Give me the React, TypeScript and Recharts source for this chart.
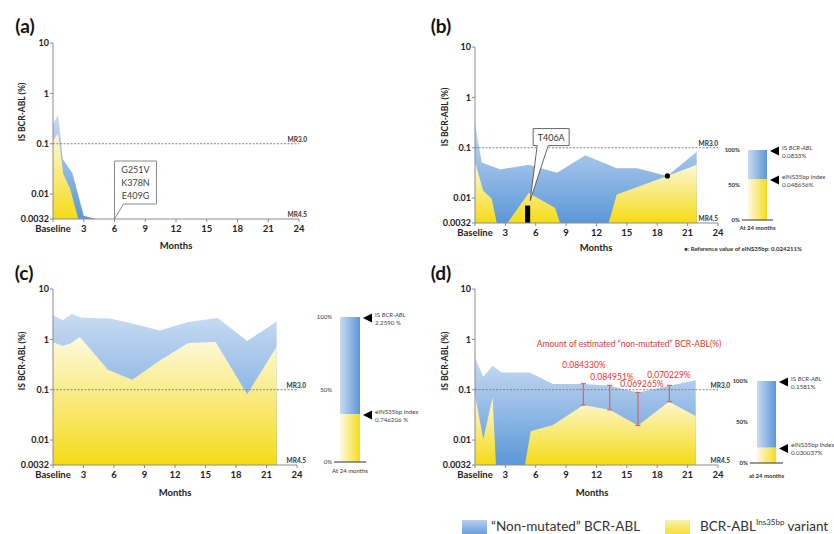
import React from 'react';
import {
  ComposedChart,
  Area,
  XAxis,
  YAxis,
  ReferenceLine,
  ReferenceDot,
  ReferenceArea,
  BarChart,
  Bar,
} from 'recharts';

const FONT = 'Lato, "Open Sans", sans-serif';

const MONTH_TICKS = [0, 3, 6, 9, 12, 15, 18, 21, 24];
const IS_TICKS = [0.0032, 0.01, 0.1, 1, 10];
const PCT_TICKS = [0, 50, 100];
const MR30 = 0.1;
const MR45 = 0.0032;

// (a)
const A_TOTAL_M = [0, 0.5, 0.95, 1.9, 3.0, 4.2];
const A_TOTAL = [0.25, 0.37, 0.05, 0.026, 0.0037, 0.0032];
const A_VAR_M = [0, 0.5, 1.0, 1.66, 2.47];
const A_VAR = [0.115, 0.16, 0.025, 0.013, 0.0032];
const A_MUTATIONS = ['G251V', 'K378N', 'E409G'];
const A_MUT_POINT = [6, 0.0032];

// (b)
const B_TOTAL_M = [0, 0.66, 2.5, 5.3, 8.1, 10.9, 14.0, 16.0, 19.0, 21.9];
const B_TOTAL = [0.31, 0.051, 0.037, 0.046, 0.032, 0.071, 0.039, 0.039, 0.0275, 0.083];
const B_VAR_M = [0, 0.8, 1.65, 2.15, 3.2, 5.3, 7.9, 8.4, 13.2, 14.0, 19.0, 21.9];
const B_VAR = [0.052, 0.0142, 0.0097, 0.0032, 0.0032, 0.0126, 0.0064, 0.0032, 0.0032, 0.0118, 0.0275, 0.046];
const B_MUT_M = [4.95, 5.45];
const B_MUT_TOP = 0.0071;
const B_MUTATION = 'T406A';
const B_REF_POINT = [19, 0.0275];

// (c)
const C_TOTAL_M = [0, 0.95, 1.83, 2.8, 5.6, 7.7, 10.5, 13.3, 16.2, 19.1, 22.0];
const C_TOTAL = [3.0, 2.4, 3.2, 2.7, 2.6, 2.1, 1.5, 2.2, 2.65, 0.93, 2.26];
const C_VAR_M = [0, 0.95, 1.67, 2.65, 5.4, 7.8, 10.5, 13.3, 16.0, 19.1, 22.0];
const C_VAR = [0.88, 0.75, 0.82, 1.11, 0.25, 0.158, 0.38, 0.845, 0.885, 0.081, 0.72];

// (d)
const D_TOTAL_M = [0, 0.82, 1.74, 2.63, 5.4, 7.7, 10.7, 13.3, 16.1, 19.2, 21.8];
const D_TOTAL = [0.43, 0.18, 0.3, 0.22, 0.22, 0.13, 0.13, 0.12, 0.0885, 0.12, 0.155];
const D_VAR_M = [0, 0.82, 1.74, 2.07, 4.93, 5.5, 7.7, 10.7, 13.3, 16.1, 19.15, 21.8];
const D_VAR = [0.079, 0.0104, 0.071, 0.0032, 0.0032, 0.0149, 0.02, 0.0496, 0.04, 0.0195, 0.0578, 0.03];
const D_ERR_M = [10.7, 13.3, 16.1, 19.2];
const D_ERR_LOW = [0.0496, 0.04, 0.0195, 0.0578];
const D_ERR_HIGH = [0.132, 0.122, 0.0885, 0.122];
const D_ERR_TEXT = ['0.084330%', '0.084951%', '0.069265%', '0.070229%'];

// values at 24 months (side bars)
const B_IS = 0.0833;
const B_INDEX = 0.048656;
const C_IS = 2.259;
const C_INDEX = 0.746206;
const D_IS = 0.1581;
const D_INDEX = 0.030037;

function buildRows(tm: number[], tv: number[], vm: number[], vv: number[]) {
  const rows: any[] = [
    ...tm.map((m, i) => ({ m, total: tv[i] })),
    ...vm.map((m, i) => ({ m, variant: vv[i] })),
  ];
  return rows.sort((p, q) => p.m - q.m);
}

function mrLabel(text: string, dx: number) {
  return (props: any) => {
    const vb = props.viewBox || {};
    return (
      <text
        x={(vb.x ?? 0) + (vb.width ?? 0) + dx}
        y={(vb.y ?? 0) - 2}
        textAnchor="end"
        fontSize={6.5}
        fontWeight={700}
        fill="#333"
        fontFamily={FONT}
      >
        {text}
      </text>
    );
  };
}

const calloutA = (props: any) => {
  const { cx, cy } = props;
  const l = cx;
  const r = cx + 42;
  const t = cy - 58;
  const b = cy - 15;
  return (
    <g>
      <path
        d={`M${l + 9},${b} L${r},${b} L${r},${t} L${l},${t} L${l},${cy} Z`}
        fill="#fff"
        stroke="#8a8a8a"
        strokeWidth={1}
      />
      {A_MUTATIONS.map((s, i) => (
        <text key={s} x={l + 21} y={t + 11.5 + i * 13} textAnchor="middle" fontSize={9} fill="#444" fontFamily={FONT}>
          {s}
        </text>
      ))}
    </g>
  );
};

const calloutB = (props: any) => {
  const { cx, cy } = props;
  const l = cx + 3;
  const r = cx + 39;
  const t = cy - 77;
  const b = cy - 60;
  return (
    <g>
      <path
        d={`M${cx + 18},${b} L${r},${b} L${r},${t} L${l},${t} L${l},${b} L${cx + 7},${b} L${cx},${cy - 5} Z`}
        fill="#fff"
        stroke="#555"
        strokeWidth={0.9}
      />
      <text x={cx + 21} y={t + 12} textAnchor="middle" fontSize={9} fill="#333" fontFamily={FONT}>
        {B_MUTATION}
      </text>
    </g>
  );
};

interface PanelProps {
  id: string;
  left: number;
  top: number;
  margin: { top: number; right: number; bottom: number; left: number };
  totalM: number[];
  total: number[];
  varM: number[];
  variant: number[];
  mrDx: number;
  children?: React.ReactNode;
}

function Panel({ id, left, top, margin, totalM, total, varM, variant, mrDx, children }: PanelProps) {
  const rows = buildRows(totalM, total, varM, variant);
  return (
    <div style={{ position: 'absolute', left, top }}>
      <ComposedChart width={320} height={margin.top + margin.bottom + 196} data={rows} margin={margin}>
        <defs>
          <linearGradient id={`${id}-blue`} x1="0" y1="0" x2="0" y2="1">
            <stop offset="0%" stopColor="#c8dbf3" />
            <stop offset="100%" stopColor="#5b97d8" />
          </linearGradient>
          <linearGradient id={`${id}-yellow`} x1="0" y1="0" x2="0" y2="1">
            <stop offset="0%" stopColor="#fdf9de" />
            <stop offset="100%" stopColor="#f5db16" />
          </linearGradient>
        </defs>
        <XAxis
          type="number"
          dataKey="m"
          domain={[0, 24]}
          allowDataOverflow
          ticks={MONTH_TICKS}
          interval={0}
          height={20}
          tickSize={3}
          tickMargin={3}
          axisLine={{ stroke: '#8c8c8c' }}
          tickLine={{ stroke: '#8c8c8c' }}
          tick={{ fontSize: 9.5, fontWeight: 700, fill: '#222', fontFamily: FONT }}
          tickFormatter={(v: number) => (v === 0 ? 'Baseline' : String(v))}
        />
        <YAxis
          type="number"
          scale="log"
          domain={[0.0032, 10]}
          allowDataOverflow
          ticks={IS_TICKS}
          interval={0}
          width={40}
          tickSize={3}
          tickMargin={1}
          axisLine={{ stroke: '#8c8c8c' }}
          tickLine={{ stroke: '#8c8c8c' }}
          tick={{ fontSize: 9, fontWeight: 700, fill: '#222', fontFamily: FONT }}
          tickFormatter={(v: number) => String(v)}
        />
        <Area
          type="linear"
          dataKey="total"
          stroke="none"
          fill={`url(#${id}-blue)`}
          fillOpacity={1}
          baseValue={0.0032}
          connectNulls
          dot={false}
          activeDot={false}
          isAnimationActive={false}
        />
        <Area
          type="linear"
          dataKey="variant"
          stroke="none"
          fill={`url(#${id}-yellow)`}
          fillOpacity={1}
          baseValue={0.0032}
          connectNulls
          dot={false}
          activeDot={false}
          isAnimationActive={false}
        />
        <ReferenceLine y={MR30} stroke="#777" strokeDasharray="2 1.5" strokeWidth={0.9} label={mrLabel('MR3.0', mrDx)} />
        <ReferenceLine y={MR45} stroke="none" label={mrLabel('MR4.5', mrDx)} />
        {children}
      </ComposedChart>
    </div>
  );
}

function arrowLabel(line1: React.ReactNode, line2: string) {
  return (props: any) => {
    const vb = props.viewBox || props;
    const x = vb.x ?? props.x;
    const y = vb.y ?? props.y;
    const w = vb.width ?? props.width;
    const ax = x + w + 3;
    return (
      <g>
        <path d={`M${ax},${y + 1} L${ax + 9},${y - 3.5} L${ax + 9},${y + 5.5} Z`} fill="#000" />
        <text x={ax + 12} y={y} fontSize={6.2} fill="#444" fontFamily={FONT}>
          {line1}
        </text>
        <text x={ax + 12} y={y + 8} fontSize={6.2} fill="#444" fontFamily={FONT}>
          {line2}
        </text>
      </g>
    );
  };
}

interface SideProps {
  id: string;
  left: number;
  top: number;
  width: number;
  height: number;
  margin: { top: number; right: number; bottom: number; left: number };
  yWidth: number;
  barSize: number;
  isValue: number;
  indexValue: number;
  isText: string;
  indexText: string;
  xLabel: string;
  xTickSize: number;
  bold: boolean;
}

function SideBar(p: SideProps) {
  const pct = (p.indexValue / p.isValue) * 100;
  const data = [{ name: p.xLabel, idx: pct, rest: 100 - pct }];
  const isLine = (
    <>
      <tspan>IS </tspan>
      <tspan fontStyle="italic">BCR-ABL</tspan>
    </>
  );
  const weight = p.bold ? 700 : 400;
  const xTick = (props: any) => (
    <text
      x={props.x}
      y={props.y}
      dy="0.71em"
      textAnchor="middle"
      fontSize={6}
      fontWeight={weight}
      fill="#333"
      fontFamily={FONT}
    >
      {props.payload.value}
    </text>
  );
  return (
    <div style={{ position: 'absolute', left: p.left, top: p.top }}>
      <BarChart width={p.width} height={p.height} data={data} margin={p.margin} barSize={p.barSize}>
        <defs>
          <linearGradient id={`${p.id}-hb`} x1="0" y1="0" x2="1" y2="0">
            <stop offset="0%" stopColor="#cadcf3" />
            <stop offset="100%" stopColor="#5a96d7" />
          </linearGradient>
          <linearGradient id={`${p.id}-hy`} x1="0" y1="0" x2="1" y2="0">
            <stop offset="0%" stopColor="#fdfae4" />
            <stop offset="100%" stopColor="#f6dc1c" />
          </linearGradient>
        </defs>
        <XAxis
          dataKey="name"
          height={12}
          interval={0}
          tickLine={false}
          tickSize={p.xTickSize}
          tickMargin={2}
          axisLine={{ stroke: '#333' }}
          tick={xTick}
        />
        <YAxis
          type="number"
          domain={[0, 100]}
          ticks={PCT_TICKS}
          interval={0}
          width={p.yWidth}
          axisLine={false}
          tickLine={false}
          tickSize={0}
          tickMargin={2}
          tick={{ fontSize: 6, fontWeight: weight, fill: '#333', fontFamily: FONT }}
          tickFormatter={(v: number) => `${v}%`}
        />
        <Bar
          dataKey="idx"
          stackId="s"
          fill={`url(#${p.id}-hy)`}
          isAnimationActive={false}
          label={arrowLabel('eINS35bp index', p.indexText)}
        />
        <Bar
          dataKey="rest"
          stackId="s"
          fill={`url(#${p.id}-hb)`}
          isAnimationActive={false}
          label={arrowLabel(isLine, p.isText)}
        />
      </BarChart>
    </div>
  );
}

function T({
  x,
  y,
  size = 9,
  weight = 400,
  color = '#333',
  anchor = 'middle',
  rotate = 0,
  children,
}: {
  x: number;
  y: number;
  size?: number;
  weight?: number;
  color?: string;
  anchor?: 'start' | 'middle' | 'end';
  rotate?: number;
  children: React.ReactNode;
}) {
  const tx = anchor === 'middle' ? '-50%' : anchor === 'end' ? '-100%' : '0';
  return (
    <div
      style={{
        position: 'absolute',
        left: x,
        top: y,
        transform: `translate(${tx}, -50%) rotate(${rotate}deg)`,
        fontSize: size,
        fontWeight: weight,
        color,
        fontFamily: FONT,
        whiteSpace: 'nowrap',
        lineHeight: 1,
      }}
    >
      {children}
    </div>
  );
}

export default function App() {
  return (
    <div
      style={{
        position: 'fixed',
        left: 0,
        top: 0,
        width: 834,
        height: 534,
        background: '#fff',
        overflow: 'hidden',
        fontFamily: FONT,
      }}
    >
      <Panel
        id="pa"
        left={0}
        top={0}
        margin={{ top: 43, right: 21, bottom: 21, left: 13 }}
        totalM={A_TOTAL_M}
        total={A_TOTAL}
        varM={A_VAR_M}
        variant={A_VAR}
        mrDx={8}
      >
        <ReferenceDot x={A_MUT_POINT[0]} y={A_MUT_POINT[1]} r={1} ifOverflow="visible" shape={calloutA} />
      </Panel>

      <Panel
        id="pb"
        left={420}
        top={0}
        margin={{ top: 47, right: 22, bottom: 24, left: 15 }}
        totalM={B_TOTAL_M}
        total={B_TOTAL}
        varM={B_VAR_M}
        variant={B_VAR}
        mrDx={0}
      >
        <ReferenceArea
          x1={B_MUT_M[0]}
          x2={B_MUT_M[1]}
          y1={0.0032}
          y2={B_MUT_TOP}
          fill="#000"
          fillOpacity={1}
          stroke="none"
          ifOverflow="visible"
        />
        <ReferenceDot x={B_MUT_M[1]} y={B_MUT_TOP} r={1} ifOverflow="visible" shape={calloutB} />
        <ReferenceDot x={B_REF_POINT[0]} y={B_REF_POINT[1]} r={2.6} fill="#000" stroke="none" />
      </Panel>

      <Panel
        id="pc"
        left={0}
        top={250}
        margin={{ top: 39, right: 23, bottom: 25, left: 13 }}
        totalM={C_TOTAL_M}
        total={C_TOTAL}
        varM={C_VAR_M}
        variant={C_VAR}
        mrDx={9}
      />

      <Panel
        id="pd"
        left={420}
        top={250}
        margin={{ top: 39, right: 22, bottom: 25, left: 15 }}
        totalM={D_TOTAL_M}
        total={D_TOTAL}
        varM={D_VAR_M}
        variant={D_VAR}
        mrDx={12}
      >
        {D_ERR_M.map((m, i) => (
          <ReferenceLine
            key={`e${i}`}
            segment={[
              { x: m, y: D_ERR_LOW[i] },
              { x: m, y: D_ERR_HIGH[i] },
            ]}
            stroke="#e0605c"
            strokeWidth={1.2}
          />
        ))}
        {D_ERR_M.map((m, i) => (
          <ReferenceLine
            key={`l${i}`}
            segment={[
              { x: m - 0.25, y: D_ERR_LOW[i] },
              { x: m + 0.25, y: D_ERR_LOW[i] },
            ]}
            stroke="#e0605c"
            strokeWidth={1.2}
          />
        ))}
        {D_ERR_M.map((m, i) => (
          <ReferenceLine
            key={`h${i}`}
            segment={[
              { x: m - 0.25, y: D_ERR_HIGH[i] },
              { x: m + 0.25, y: D_ERR_HIGH[i] },
            ]}
            stroke="#e0605c"
            strokeWidth={1.2}
          />
        ))}
      </Panel>

      <SideBar
        id="sb"
        left={700}
        top={140}
        width={134}
        height={100}
        margin={{ top: 10, right: 61, bottom: 8, left: 0 }}
        yWidth={42}
        barSize={19}
        isValue={B_IS}
        indexValue={B_INDEX}
        isText="0.0833%"
        indexText="0.048656%"
        xLabel="At 24 months"
        xTickSize={4}
        bold
      />
      <SideBar
        id="sc"
        left={290}
        top={300}
        width={130}
        height={182}
        margin={{ top: 17, right: 54, bottom: 8, left: 0 }}
        yWidth={44}
        barSize={20}
        isValue={C_IS}
        indexValue={C_INDEX}
        isText="2.2590 %"
        indexText="0.746206 %"
        xLabel="At 24 months"
        xTickSize={5}
        bold={false}
      />
      <SideBar
        id="sd"
        left={700}
        top={370}
        width={134}
        height={113}
        margin={{ top: 11, right: 51, bottom: 8, left: 0 }}
        yWidth={50}
        barSize={19}
        isValue={D_IS}
        indexValue={D_INDEX}
        isText="0.1581%"
        indexText="0.030037%"
        xLabel="at 24 months"
        xTickSize={9}
        bold
      />

      <T x={25} y={25} size={19} weight={700} color="#111">(a)</T>
      <T x={441} y={25} size={19} weight={700} color="#111">(b)</T>
      <T x={24} y={272} size={19} weight={700} color="#111">(c)</T>
      <T x={441} y={272} size={19} weight={700} color="#111">(d)</T>

      <T x={22} y={112} size={8.5} weight={700} color="#222" rotate={-90}>IS BCR-ABL (%)</T>
      <T x={445} y={117} size={8.5} weight={700} color="#222" rotate={-90}>IS BCR-ABL (%)</T>
      <T x={22} y={361} size={8.5} weight={700} color="#222" rotate={-90}>IS BCR-ABL (%)</T>
      <T x={445} y={361} size={8.5} weight={700} color="#222" rotate={-90}>IS BCR-ABL (%)</T>

      <T x={176} y={246} size={9.5} weight={700} color="#222">Months</T>
      <T x={596} y={248} size={9.5} weight={700} color="#222">Months</T>
      <T x={175} y={493} size={9.5} weight={700} color="#222">Months</T>
      <T x={592} y={493} size={9.5} weight={700} color="#222">Months</T>

      <T x={743} y={249} size={6} weight={700} color="#333">●: Reference value of eINS35bp: 0.024211%</T>

      <T x={629} y={344} size={8.5} color="#e8332f">Amount of estimated “non-mutated” BCR-ABL(%)</T>
      <T x={584} y={365} size={8.5} color="#e8332f">{D_ERR_TEXT[0]}</T>
      <T x={612} y={377} size={8.5} color="#e8332f">{D_ERR_TEXT[1]}</T>
      <T x={642} y={384} size={8.5} color="#e8332f">{D_ERR_TEXT[2]}</T>
      <T x={669} y={375} size={8.5} color="#e8332f">{D_ERR_TEXT[3]}</T>

      <div
        style={{
          position: 'absolute',
          left: 462,
          top: 520,
          width: 25,
          height: 14,
          background: 'linear-gradient(to bottom, #b7cff0, #6d9fdc)',
        }}
      />
      <T x={491} y={527} size={13.5} anchor="start" color="#333">“Non-mutated” BCR-ABL</T>
      <div
        style={{
          position: 'absolute',
          left: 665,
          top: 520,
          width: 25,
          height: 14,
          background: 'linear-gradient(to bottom, #faf1a8, #f5de3a)',
        }}
      />
      <T x={700} y={527} size={13.5} anchor="start" color="#333">
        BCR-ABL<sup style={{ fontSize: 8, verticalAlign: 'top', position: 'relative', top: -2 }}>Ins35bp</sup> variant
      </T>
    </div>
  );
}
